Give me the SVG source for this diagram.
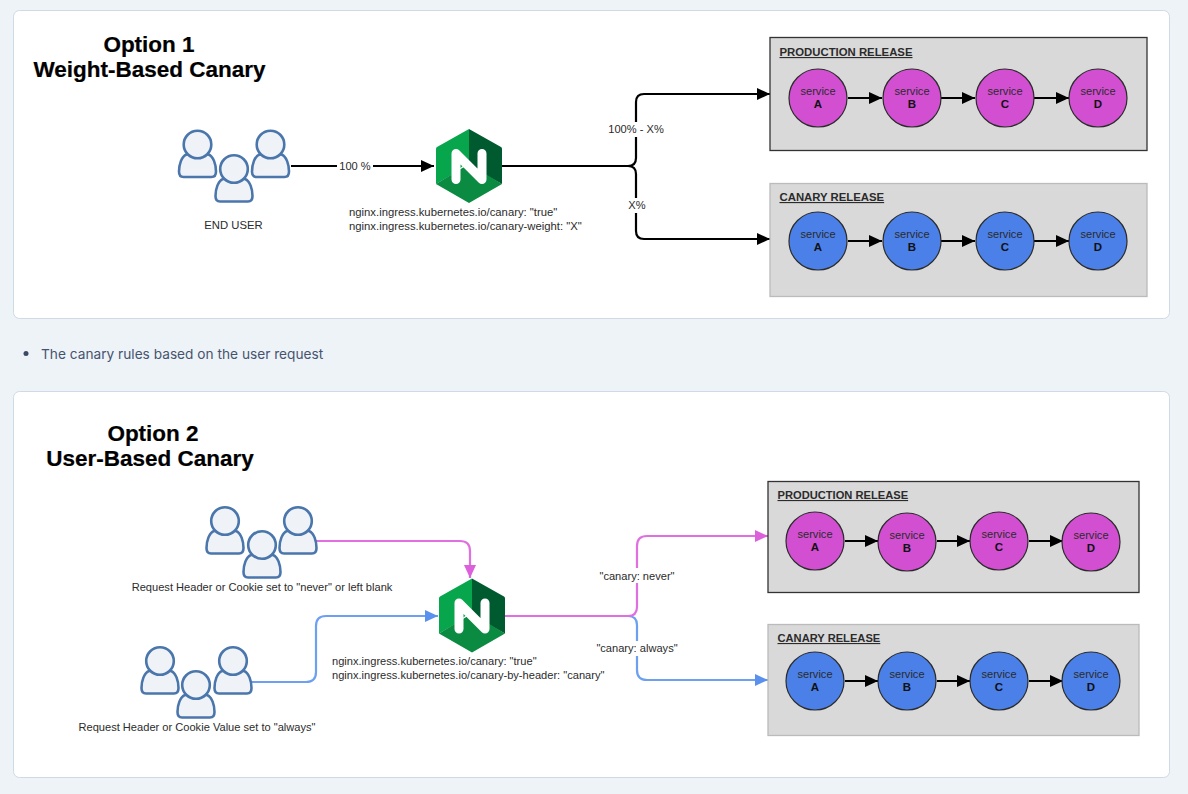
<svg xmlns="http://www.w3.org/2000/svg" width="1188" height="794" viewBox="0 0 1188 794">
<style>
text{font-family:"Liberation Sans",Arial,sans-serif;fill:#2b2b2b}
.panel{fill:#fff;stroke:#cfdae6;stroke-width:1}
.title{font-size:22.500px;font-weight:bold;fill:#000;text-anchor:middle;stroke:#000;stroke-width:.2}
.lbl{font-size:11.100px}
.lbl1{font-size:11.300px}
.mid{text-anchor:middle}
.rel{fill:#d9d9d9;stroke-width:1.3}
.rh{font-size:11.150px;font-weight:bold;text-decoration:underline}
.rh1{font-size:11.350px;font-weight:bold;text-decoration:underline}
.mag{fill:#d24fd2;stroke:#2b2b2b;stroke-width:1.2}
.blu{fill:#4a80e8;stroke:#2b2b2b;stroke-width:1.2}
.s1{font-size:11.100px;text-anchor:middle}
.s2{font-size:11.500px;font-weight:bold;text-anchor:middle;fill:#111}
.con{fill:none;stroke:#000;stroke-width:2.200}
.pk{fill:none;stroke:#e070e0;stroke-width:2.200}
.bl{fill:none;stroke:#6da0f0;stroke-width:2.200}
.u{fill:#eff3f8;stroke:#4a76ab;stroke-width:2.600}
</style>
<defs>
<marker id="ak" markerUnits="userSpaceOnUse" markerWidth="14" markerHeight="14" refX="13" refY="7" orient="auto"><path d="M0,1 L13,7 L0,13 Z" fill="#000"/></marker>
<marker id="akp" markerUnits="userSpaceOnUse" markerWidth="14" markerHeight="14" refX="13" refY="7" orient="auto"><path d="M0,1 L13,7 L0,13 Z" fill="#dc5fdc"/></marker>
<marker id="akb" markerUnits="userSpaceOnUse" markerWidth="14" markerHeight="14" refX="13" refY="7" orient="auto"><path d="M0,1 L13,7 L0,13 Z" fill="#5a90ee"/></marker>
<g id="person">
<path class="u" d="M-11,10 C-16,12 -18.500,20 -18.500,27 C-18.500,31 -17,32.500 -14,32.500 L14,32.500 C17,32.500 18.500,31 18.500,27 C18.500,20 16,12 11,10 Z"/>
<circle class="u" cx="0" cy="0" r="13.800"/>
</g>
<g id="logo">
<path d="M0,-37 L-32,-19 Q-33,-18.500 -33,-17 L-33,18 L-16,8 L0,-5 Z" fill="#07a64c"/>
<path d="M0,-37 L32,-19 Q33,-18.500 33,-17 L33,18 L0,0 Z" fill="#005a30"/>
<path d="M-33,18 L0,37 L33,18 L0,-2 Z" fill="#0b8a41"/>
<path d="M-13,13.500 L-13,-12.500 L13,13.500 L13,-12.500" fill="none" stroke="#fff" stroke-width="9" stroke-linecap="round" stroke-linejoin="round"/>
</g>
</defs>
<rect x="0" y="0" width="1188" height="794" fill="#eef3f8"/>
<rect class="panel" x="13.500" y="10.500" width="1156" height="308" rx="6"/>
<rect class="panel" x="13.500" y="391.500" width="1156" height="386" rx="6"/>
<circle cx="26" cy="353.500" r="2.500" fill="#3b4a66"/>
<text x="41" y="359" style="font-family:Inter,sans-serif;font-size:13.700px;fill:#46536e">The canary rules based on the user request</text>

<g id="connectors">
<path class="con" d="M291,166 H434" marker-end="url(#ak)"/>
<path class="con" d="M502,166 H628 Q636,166 636,158 V102 Q636,94 644,94 H770" marker-end="url(#ak)"/>
<path class="con" d="M502,166 H628 Q636,166 636,174 V231 Q636,239 644,239 H770" marker-end="url(#ak)"/>
<path class="pk" d="M316,541 H460 Q470,541 470,551 V578" marker-end="url(#akp)"/>
<path class="bl" d="M252,682 H306 Q316,682 316,672 V626 Q316,616 326,616 H438" marker-end="url(#akb)"/>
<path class="bl" d="M628,616 Q637,616 637,625 V670 Q637,680 647,680 H768" marker-end="url(#akb)"/>
<path class="pk" d="M505,616 H628 Q637,616 637,607 V546 Q637,536 647,536 H768" marker-end="url(#akp)"/>
<g id="labels-bg" fill="#fff">
<rect x="337" y="158" width="36" height="16"/>
<rect x="606" y="122" width="60" height="15"/>
<rect x="626" y="198" width="22" height="15"/>
<rect x="597" y="568" width="80" height="15"/>
<rect x="594" y="641" width="86" height="15"/>
</g>
<g>
<text class="lbl mid" x="355" y="170">100 %</text>
<text class="lbl mid" x="636" y="133">100% - X%</text>
<text class="lbl mid" x="637" y="209">X%</text>
<text class="lbl mid" x="637" y="580">"canary: never"</text>
<text class="lbl mid" x="637" y="652">"canary: always"</text>
</g>
</g>

<g id="title-1"><text class="title" x="149" y="52">Option 1</text><text class="title" x="149.500" y="77">Weight-Based Canary</text></g>
<g id="end-user">
<use href="#person" x="197.500" y="144.500"/><use href="#person" x="270.500" y="144.500"/><use href="#person" x="234" y="169"/>
<text class="lbl1 mid" x="233.500" y="229">END USER</text>
</g>
<g id="nginx-1"><use href="#logo" x="469" y="166"/>
<text class="lbl1" x="349" y="216">nginx.ingress.kubernetes.io/canary: "true"</text>
<text class="lbl1" x="349" y="230">nginx.ingress.kubernetes.io/canary-weight: "X"</text></g>

<g id="production-1">
<rect class="rel" x="770" y="37.500" width="377" height="113" stroke="#333"/>
<text class="rh1" x="779.500" y="56">PRODUCTION RELEASE</text>
<path class="con" d="M848,98 H882" marker-end="url(#ak)"/><path class="con" d="M941,98 H975" marker-end="url(#ak)"/><path class="con" d="M1034,98 H1069" marker-end="url(#ak)"/>
<g id="p1a"><circle class="mag" cx="818" cy="98" r="29"/><text class="s1" x="818" y="95">service</text><text class="s2" x="818" y="108">A</text></g>
<g id="p1b"><circle class="mag" cx="912" cy="98" r="29"/><text class="s1" x="912" y="95">service</text><text class="s2" x="912" y="108">B</text></g>
<g id="p1c"><circle class="mag" cx="1005" cy="98" r="29"/><text class="s1" x="1005" y="95">service</text><text class="s2" x="1005" y="108">C</text></g>
<g id="p1d"><circle class="mag" cx="1098" cy="98" r="29"/><text class="s1" x="1098" y="95">service</text><text class="s2" x="1098" y="108">D</text></g>
</g>
<g id="canary-1">
<rect class="rel" x="770" y="183.500" width="377" height="113" stroke="#bbb"/>
<text class="rh1" x="779.500" y="201">CANARY RELEASE</text>
<path class="con" d="M848,241 H882" marker-end="url(#ak)"/><path class="con" d="M941,241 H975" marker-end="url(#ak)"/><path class="con" d="M1034,241 H1069" marker-end="url(#ak)"/>
<g id="c1a"><circle class="blu" cx="818" cy="241" r="29"/><text class="s1" x="818" y="238">service</text><text class="s2" x="818" y="251">A</text></g>
<g id="c1b"><circle class="blu" cx="912" cy="241" r="29"/><text class="s1" x="912" y="238">service</text><text class="s2" x="912" y="251">B</text></g>
<g id="c1c"><circle class="blu" cx="1005" cy="241" r="29"/><text class="s1" x="1005" y="238">service</text><text class="s2" x="1005" y="251">C</text></g>
<g id="c1d"><circle class="blu" cx="1098" cy="241" r="29"/><text class="s1" x="1098" y="238">service</text><text class="s2" x="1098" y="251">D</text></g>
</g>

<g id="title-2"><text class="title" x="153" y="441">Option 2</text><text class="title" x="150" y="466">User-Based Canary</text></g>
<g id="users-never">
<use href="#person" x="225" y="521"/><use href="#person" x="298" y="521"/><use href="#person" x="262" y="545"/>
<text class="lbl mid" x="262" y="591">Request Header or Cookie set to "never" or left blank</text>
</g>
<g id="users-always">
<use href="#person" x="160" y="661"/><use href="#person" x="233" y="661"/><use href="#person" x="196" y="685"/>
<text class="lbl mid" x="197" y="731">Request Header or Cookie Value set to "always"</text>
</g>
<g id="nginx-2"><use href="#logo" x="472" y="615.500"/>
<text class="lbl" x="332" y="665">nginx.ingress.kubernetes.io/canary: "true"</text>
<text class="lbl" x="332" y="679">nginx.ingress.kubernetes.io/canary-by-header: "canary"</text></g>

<g id="production-2">
<rect class="rel" x="768" y="481.500" width="371" height="111" stroke="#333"/>
<text class="rh" x="777.500" y="499">PRODUCTION RELEASE</text>
<path class="con" d="M845,541 H878" marker-end="url(#ak)"/><path class="con" d="M937,541 H970" marker-end="url(#ak)"/><path class="con" d="M1029,541 H1063" marker-end="url(#ak)"/>
<g id="p2a"><circle class="mag" cx="815" cy="541" r="29"/><text class="s1" x="815" y="538">service</text><text class="s2" x="815" y="551">A</text></g>
<g id="p2b"><circle class="mag" cx="907" cy="542" r="29"/><text class="s1" x="907" y="539">service</text><text class="s2" x="907" y="552">B</text></g>
<g id="p2c"><circle class="mag" cx="999" cy="541" r="29"/><text class="s1" x="999" y="538">service</text><text class="s2" x="999" y="551">C</text></g>
<g id="p2d"><circle class="mag" cx="1091" cy="542" r="29"/><text class="s1" x="1091" y="539">service</text><text class="s2" x="1091" y="552">D</text></g>
</g>
<g id="canary-2">
<rect class="rel" x="768" y="624.500" width="371" height="111" stroke="#bbb"/>
<text class="rh" x="777.500" y="642">CANARY RELEASE</text>
<path class="con" d="M845,681 H878" marker-end="url(#ak)"/><path class="con" d="M937,681 H970" marker-end="url(#ak)"/><path class="con" d="M1029,681 H1063" marker-end="url(#ak)"/>
<g id="c2a"><circle class="blu" cx="815" cy="681" r="29"/><text class="s1" x="815" y="678">service</text><text class="s2" x="815" y="691">A</text></g>
<g id="c2b"><circle class="blu" cx="907" cy="681" r="29"/><text class="s1" x="907" y="678">service</text><text class="s2" x="907" y="691">B</text></g>
<g id="c2c"><circle class="blu" cx="999" cy="681" r="29"/><text class="s1" x="999" y="678">service</text><text class="s2" x="999" y="691">C</text></g>
<g id="c2d"><circle class="blu" cx="1091" cy="681" r="29"/><text class="s1" x="1091" y="678">service</text><text class="s2" x="1091" y="691">D</text></g>
</g>
</svg>
